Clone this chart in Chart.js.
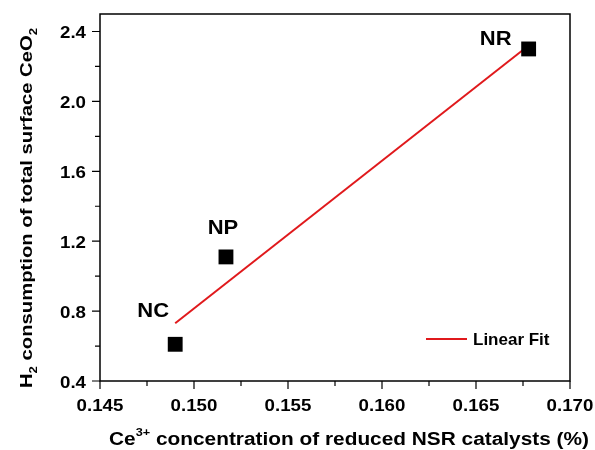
<!DOCTYPE html>
<html>
<head>
<meta charset="utf-8">
<script src="https://cdn.jsdelivr.net/npm/chart.js@4"></script>
<style>
  html, body { margin: 0; padding: 0; background: #fff; }
  #wrap { width: 595px; height: 450px; }
</style>
</head>
<body>
<div id="wrap"><canvas id="chart"></canvas></div>
<script>
// sample data
const sampleNames = ['NC', 'NP', 'NR'];
const ce3Values = [0.1490, 0.1517, 0.1678];
const h2Values = [0.61, 1.11, 2.30];

// linear fit line end points
const fitX = [0.1490, 0.1678];
const fitY = [0.73, 2.32];

const FONT = '"Liberation Sans", Arial, sans-serif';
const RED = '#e0191c';
const STRETCH = 1.1;   // the original lettering is a little wide

// label offsets from their point (px)
const labelOffsets = [[-22, -33], [-3, -28], [-33, -9]];

function isMajor(v, step) {
    const r = v / step;
    return Math.abs(r - Math.round(r)) < 1e-6;
}

// text drawn with a horizontal stretch
function drawText(ctx, text, x, y, size, align, baseline, sx) {
    ctx.save();
    ctx.font = 'bold ' + size + 'px ' + FONT;
    ctx.textAlign = align;
    ctx.textBaseline = baseline;
    ctx.translate(x, y);
    ctx.scale(sx, 1);
    ctx.fillText(text, 0, 0);
    ctx.restore();
}

// draws text pieces [{t, size, dy}] centred on x, squeezed/stretched to width
function drawRich(ctx, parts, x, y, width) {
    let total = 0;
    parts.forEach(p => {
        ctx.font = 'bold ' + p.size + 'px ' + FONT;
        p.w = ctx.measureText(p.t).width;
        total += p.w;
    });
    const sx = width / total;
    ctx.save();
    ctx.translate(x - width / 2, y);
    ctx.scale(sx, 1);
    ctx.textAlign = 'left';
    ctx.textBaseline = 'alphabetic';
    let cx = 0;
    parts.forEach(p => {
        ctx.font = 'bold ' + p.size + 'px ' + FONT;
        ctx.fillText(p.t, cx, p.dy || 0);
        cx += p.w;
    });
    ctx.restore();
}

const decorPlugin = {
    id: 'decor',
    afterDraw(chart) {
        const ctx = chart.ctx;
        const area = chart.chartArea;
        const xs = chart.scales.x;
        const ys = chart.scales.y;
        ctx.save();
        ctx.fillStyle = '#000';

        // frame
        ctx.strokeStyle = '#000';
        ctx.lineWidth = 1.5;
        ctx.strokeRect(area.left, area.top, area.right - area.left, area.bottom - area.top);

        // tick marks (major / minor) and labels
        ctx.lineWidth = 1.2;
        ctx.beginPath();
        xs.ticks.forEach(t => {
            const px = xs.getPixelForValue(t.value);
            const major = isMajor(t.value, 0.005);
            ctx.moveTo(px, area.bottom);
            ctx.lineTo(px, area.bottom + (major ? 8 : 5));
            if (major) drawText(ctx, t.value.toFixed(3), px, area.bottom + 30, 17, 'center', 'alphabetic', STRETCH);
        });
        ys.ticks.forEach(t => {
            const py = ys.getPixelForValue(t.value);
            const major = isMajor(t.value, 0.4);
            ctx.moveTo(area.left, py);
            ctx.lineTo(area.left - (major ? 8 : 5), py);
            if (major) drawText(ctx, t.value.toFixed(1), area.left - 14, py + 7, 17, 'right', 'alphabetic', STRETCH);
        });
        ctx.stroke();

        // sample labels
        sampleNames.forEach((name, i) => {
            const px = xs.getPixelForValue(ce3Values[i]);
            const py = ys.getPixelForValue(h2Values[i]);
            drawText(ctx, name, px + labelOffsets[i][0], py + labelOffsets[i][1], 20, 'center', 'middle', STRETCH);
        });

        // legend inside the plot
        ctx.strokeStyle = RED;
        ctx.lineWidth = 2;
        ctx.beginPath();
        ctx.moveTo(426, 339);
        ctx.lineTo(467, 339);
        ctx.stroke();
        drawText(ctx, 'Linear Fit', 473, 340, 17, 'left', 'middle', 1.0);

        // x axis title
        drawRich(ctx, [
            {t: 'Ce', size: 18},
            {t: '3+', size: 11, dy: -9},
            {t: ' concentration of reduced NSR catalysts (%)', size: 18}
        ], 349, 445, 480);

        // y axis title
        ctx.translate(32, 208);
        ctx.rotate(-Math.PI / 2);
        drawRich(ctx, [
            {t: 'H', size: 17},
            {t: '2', size: 11, dy: 5},
            {t: ' consumption of total surface CeO', size: 17},
            {t: '2', size: 11, dy: 5}
        ], 0, 0, 360);

        ctx.restore();
    }
};

new Chart(document.getElementById('chart'), {
    type: 'scatter',
    data: {
        datasets: [
            {
                label: 'Samples',
                data: ce3Values.map((x, i) => ({x: x, y: h2Values[i]})),
                pointStyle: 'rect',
                pointRadius: 10.5,
                pointHoverRadius: 10.5,
                backgroundColor: '#000',
                borderColor: '#000',
                borderWidth: 0
            },
            {
                label: 'Linear Fit',
                type: 'line',
                data: fitX.map((x, i) => ({x: x, y: fitY[i]})),
                borderColor: RED,
                borderWidth: 2,
                pointRadius: 0,
                fill: false
            }
        ]
    },
    options: {
        responsive: true,
        maintainAspectRatio: false,
        animation: false,
        layout: { padding: { left: 0, top: 14, right: 25, bottom: 0 } },
        plugins: {
            legend: { display: false },
            tooltip: { enabled: false }
        },
        scales: {
            x: {
                type: 'linear',
                min: 0.145,
                max: 0.170,
                grid: { display: false },
                border: { display: false },
                afterFit: s => { s.height = 69; },
                ticks: {
                    display: false,
                    stepSize: 0.0025,
                    includeBounds: false,
                    autoSkip: false
                }
            },
            y: {
                min: 0.4,
                max: 2.5,
                grid: { display: false },
                border: { display: false },
                afterFit: s => { s.width = 100; },
                ticks: {
                    display: false,
                    stepSize: 0.2,
                    includeBounds: false,
                    autoSkip: false
                }
            }
        }
    },
    plugins: [decorPlugin]
});
</script>
</body>
</html>
